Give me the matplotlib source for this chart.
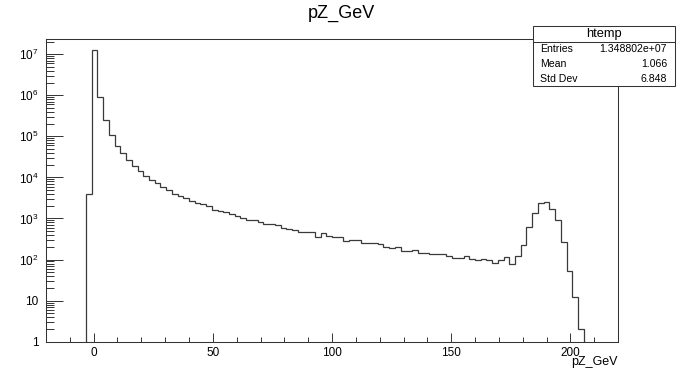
import numpy as np
import matplotlib
matplotlib.use('Agg')
import matplotlib.pyplot as plt
from matplotlib.ticker import FixedLocator, FixedFormatter, LogLocator, NullFormatter, MultipleLocator
from matplotlib.patches import Rectangle
from matplotlib.lines import Line2D

plt.rcParams['font.family'] = ['Liberation Sans', 'DejaVu Sans']
plt.rcParams['mathtext.fontset'] = 'custom'
plt.rcParams['mathtext.rm'] = 'Liberation Sans'
plt.rcParams['mathtext.it'] = 'Liberation Sans:italic'
plt.rcParams['mathtext.bf'] = 'Liberation Sans:bold'

# ---------------- data ----------------
title = "pZ_GeV"
x_label = "pZ_GeV"
x_min, x_max, n_bins = -20.0, 220.0, 100

counts = [
    0, 0, 0, 0, 0, 0, 0, 3900, 1.25e7, 9.3e5,
    2.47e5, 1.06e5, 5.8e4, 3.9e4, 2.66e4, 1.87e4, 1.41e4, 1.09e4, 8700, 7200,
    6000, 4950, 4000, 3600, 3100, 2720, 2430, 2220, 2020, 1610,
    1520, 1420, 1290, 1130, 1030, 935, 920, 810, 750, 725,
    690, 588, 556, 525, 478, 462, 460, 361, 436, 382,
    356, 354, 284, 295, 293, 260, 257, 253, 244, 206,
    191, 202, 160, 158, 171, 148, 146, 134, 140, 138,
    122, 110, 108, 120, 104, 97, 103, 96, 84, 98,
    114, 78, 120, 231, 622, 1390, 2350, 2570, 1740, 920,
    266, 54, 12, 2, 0, 0, 0, 0, 0, 0,
]

x_major_ticks = [0, 50, 100, 150, 200]
x_tick_labels = ["0", "50", "100", "150", "200"]
y_major_ticks = [1, 10, 1e2, 1e3, 1e4, 1e5, 1e6, 1e7]
y_tick_labels = ["1", "10", r"$10^{2}$", r"$10^{3}$", r"$10^{4}$",
                 r"$10^{5}$", r"$10^{6}$", r"$10^{7}$"]

stats_name = "htemp"
stats_labels = ["Entries", "Mean", "Std Dev"]
stats_values = ["1.348802e+07", "1.066", "6.848"]

# ---------------- figure ----------------
W, H = 682, 372
fig = plt.figure(figsize=(W / 100, H / 100), dpi=100)
fig.patch.set_facecolor('white')

ax_l, ax_r, ax_t, ax_b = 46, 618, 39, 341.7
ax = fig.add_axes([ax_l / W, 1 - ax_b / H, (ax_r - ax_l) / W, (ax_b - ax_t) / H])

edges = np.linspace(x_min, x_max, n_bins + 1)
vals = np.asarray(counts, dtype=float)
plot_vals = np.where(vals > 0, vals, 1e-2)
ax.stairs(plot_vals, edges, color='#3a3a3a', lw=0.9, baseline=None)

ax.set_yscale('log')
ax.set_xlim(x_min, x_max)
ax.set_ylim(1, 10 ** 7.37)

ax.xaxis.set_major_locator(FixedLocator(x_major_ticks))
ax.xaxis.set_major_formatter(FixedFormatter(x_tick_labels))
ax.xaxis.set_minor_locator(MultipleLocator(10))
ax.yaxis.set_major_locator(FixedLocator(y_major_ticks))
ax.yaxis.set_major_formatter(FixedFormatter(y_tick_labels))
ax.yaxis.set_minor_locator(LogLocator(base=10, subs=np.arange(2, 10), numticks=20))
ax.yaxis.set_minor_formatter(NullFormatter())

ax.tick_params(which='both', direction='in', top=False, right=False,
               color='#333333', width=0.7, labelsize=8.5, labelcolor='black')
ax.tick_params(axis='x', which='major', length=6.8, pad=3.5)
ax.tick_params(axis='x', which='minor', length=3.4)
ax.tick_params(axis='y', which='major', length=12.2, pad=5.5)
ax.tick_params(axis='y', which='minor', length=6.1)

for sp in ax.spines.values():
    sp.set_color('#333333')
    sp.set_linewidth(0.75)

# title
fig.text(341 / W, 1 - 13 / H, title, ha='center', va='center', fontsize=13)
# x axis label (right aligned)
fig.text(ax_r / W, 1 - 362 / H, x_label, ha='right', va='center', fontsize=9)

# stats box
bx_l, bx_r, bx_t, bx_b = 533, 675, 26, 86
fig.add_artist(Rectangle((bx_l / W, 1 - bx_b / H), (bx_r - bx_l) / W, (bx_b - bx_t) / H,
                         transform=fig.transFigure, facecolor='white',
                         edgecolor='#333333', lw=0.75, zorder=10))
fig.add_artist(Line2D([bx_l / W, bx_r / W], [1 - 41.7 / H, 1 - 41.7 / H],
                      transform=fig.transFigure, color='#333333', lw=0.75, zorder=11))
fig.text((bx_l + bx_r) / 2 / W, 1 - 34 / H, stats_name, ha='center', va='center',
         fontsize=9.3, zorder=12)
row_y = [49, 64, 79]
for lab, val, yy in zip(stats_labels, stats_values, row_y):
    fig.text(540 / W, 1 - yy / H, lab, ha='left', va='center', fontsize=7.6, zorder=12)
    fig.text(667 / W, 1 - yy / H, val, ha='right', va='center', fontsize=7.6, zorder=12)

fig.savefig('out.png', dpi=100)
